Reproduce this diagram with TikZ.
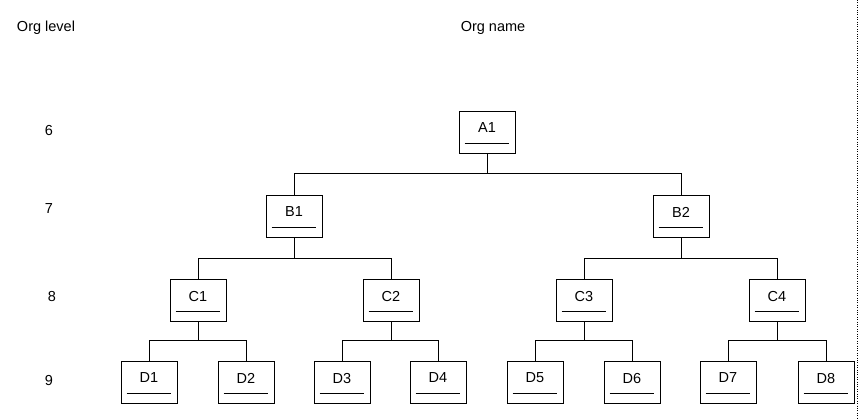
\documentclass[tikz,border=0pt]{standalone}
\usepackage{fontspec}
\setmainfont{Liberation Sans}
\begin{document}
\begin{tikzpicture}[x=1pt,y=-1pt,
  box/.style={draw,line width=0.9pt,minimum width=56pt,minimum height=42pt,inner sep=0pt,font=\fontsize{14.5}{16}\selectfont},
  conn/.style={line width=0.8pt},
  lbl/.style={font=\fontsize{14.5}{16}\selectfont}]
\useasboundingbox (0,0) rectangle (860,418);
\draw[dotted] (857,0) -- (857,418);
\node[lbl] (hl) at (46,28) {Org level};
\node[lbl] (hn) at (493,28) {Org name};
\node[lbl] (l6) at (49,131) {6};
\node[lbl] (l7) at (49,209) {7};
\node[lbl] (l8) at (52,297) {8};
\node[lbl] (l9) at (49,381) {9};
\foreach \n/\x/\y in {A1/487/132,B1/294/216,B2/681/216,C1/198/300,C2/391/300,C3/584/300,C4/777/300,
  D1/149/382,D2/246/382,D3/342/382,D4/438/382,D5/535/382,D6/632/382,D7/728/382,D8/826/382}{
  \node[box,text depth=8pt] (\n) at (\x,\y) {\n};
  \draw[line width=1.1pt] ([xshift=6pt,yshift=10pt]\n.south west) -- ([xshift=-6pt,yshift=10pt]\n.south east);
}
\foreach \p/\a/\b/\y in {A1/B1/B2/173,B1/C1/C2/258,B2/C3/C4/258,C1/D1/D2/340,C2/D3/D4/340,C3/D5/D6/340,C4/D7/D8/340}{
  \draw[conn] (\p.south) -- (\p.south |- 0,\y);
  \draw[conn] (\a.north) -- (\a.north |- 0,\y) -- (\b.north |- 0,\y) -- (\b.north);
}
\end{tikzpicture}
\end{document}
